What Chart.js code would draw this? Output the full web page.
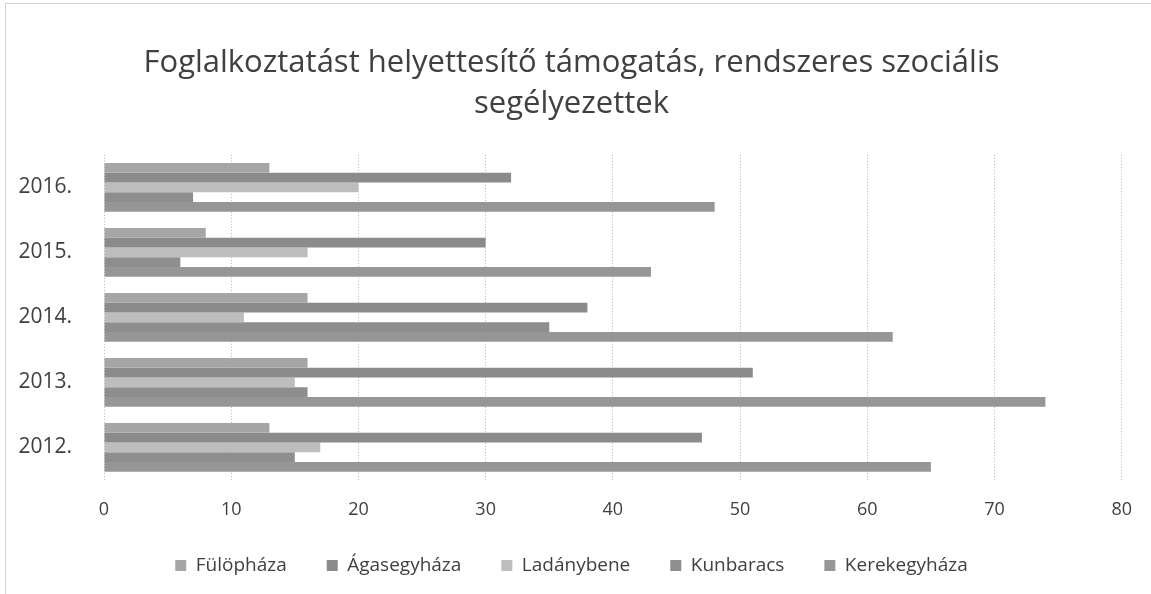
<!DOCTYPE html>
<html>
<head>
<meta charset="utf-8">
<script src="https://cdn.jsdelivr.net/npm/chart.js@4/dist/chart.umd.min.js"></script>
<style>
    html, body { margin: 0; padding: 0; background: #fff; }
    #wrap { position: relative; width: 1151px; height: 594px; }
    #frame { position: absolute; left: 5px; top: 3px; right: 0; bottom: 0; border-left: 1px solid #d4d4d4; border-top: 1px solid #d4d4d4; pointer-events: none; }
</style>
</head>
<body>
<div id="wrap">
    <canvas id="fhtChart" width="1151" height="594"></canvas>
    <div id="frame"></div>
</div>
<script>
// Years, top to bottom as in the picture
const years = ["2016.", "2015.", "2014.", "2013.", "2012."];

// Settlements (legend order)
const fulophaza = [13, 8, 16, 16, 13];
const agasegyhaza = [32, 30, 38, 51, 47];
const ladanybene = [20, 16, 11, 15, 17];
const kunbaracs = [7, 6, 35, 16, 15];
const kerekegyhaza = [48, 43, 62, 74, 65];

const xTicks = [0, 10, 20, 30, 40, 50, 60, 70, 80];

const font = "'Open Sans', 'DejaVu Sans', sans-serif";
const textColor = '#404040';

document.addEventListener("DOMContentLoaded", () => {
    const ctx = document.getElementById('fhtChart').getContext('2d');

    const makeSet = (label, data, color) => ({
        label: label,
        data: data,
        backgroundColor: color,
        borderWidth: 0,
        barPercentage: 1.0,
        categoryPercentage: 0.75
    });

    new Chart(ctx, {
        type: 'bar',
        data: {
            labels: years,
            datasets: [
                makeSet('Fülöpháza', fulophaza, '#a6a6a6'),
                makeSet('Ágasegyháza', agasegyhaza, '#8b8b8b'),
                makeSet('Ladánybene', ladanybene, '#bdbdbd'),
                makeSet('Kunbaracs', kunbaracs, '#8e8e8e'),
                makeSet('Kerekegyháza', kerekegyhaza, '#969696')
            ]
        },
        options: {
            indexAxis: 'y',
            responsive: false,
            animation: false,
            layout: { padding: { left: 19, right: 27, top: 43, bottom: 9 } },
            scales: {
                x: {
                    min: xTicks[0],
                    max: xTicks[xTicks.length - 1],
                    afterBuildTicks: (scale) => { scale.ticks = xTicks.map(v => ({ value: v })); },
                    grid: { color: '#b5b5b5', drawTicks: false },
                    border: { display: false, dash: [1, 2] },
                    ticks: { color: textColor, font: { family: font, size: 18 }, padding: 19 },
                    afterFit: (scale) => { scale.height = 36; }
                },
                y: {
                    grid: { display: false },
                    border: { display: false },
                    ticks: { color: textColor, font: { family: font, size: 21 }, padding: 24 },
                    afterFit: (scale) => { scale.width = 85; }
                }
            },
            plugins: {
                title: {
                    display: true,
                    text: ['Foglalkoztatást helyettesítő támogatás, rendszeres szociális', 'segélyezettek'],
                    color: textColor,
                    font: { family: font, size: 31, weight: 'normal', lineHeight: 1.32 },
                    padding: { top: 0, bottom: 30 }
                },
                legend: {
                    position: 'bottom',
                    labels: {
                        color: textColor,
                        font: { family: font, size: 19 },
                        boxWidth: 11,
                        boxHeight: 11,
                        padding: 40
                    }
                },
                tooltip: { enabled: false }
            }
        }
    });
});
</script>
</body>
</html>
